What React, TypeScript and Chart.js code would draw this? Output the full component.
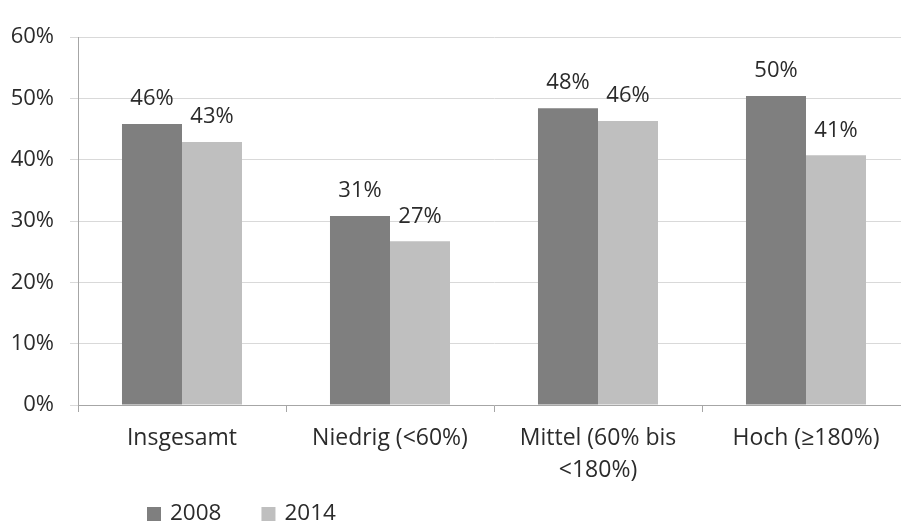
import React, { useEffect, useRef } from "react";
import { Chart, registerables } from "chart.js";

Chart.register(...registerables);

const categories: (string | string[])[] = [
  "Insgesamt",
  "Niedrig (<60%)",
  ["Mittel (60% bis", "<180%)"],
  "Hoch (≥180%)",
];
const series2008 = [45.8, 30.8, 48.4, 50.4];
const series2014 = [42.9, 26.7, 46.3, 40.7];
const seriesLabels = ["2008", "2014"];
const yTicks = [0, 10, 20, 30, 40, 50, 60];

const FONT = '"Open Sans", "DejaVu Sans", sans-serif';
const TEXT = "#2b2b2b";

const dataLabelPlugin = {
  id: "dataLabels",
  afterDatasetsDraw(chart: any) {
    const ctx = chart.ctx;
    ctx.save();
    ctx.font = `22px ${FONT}`;
    ctx.fillStyle = TEXT;
    ctx.textAlign = "center";
    ctx.textBaseline = "middle";
    chart.data.datasets.forEach((ds: any, i: number) => {
      const meta = chart.getDatasetMeta(i);
      meta.data.forEach((bar: any, j: number) => {
        ctx.fillText(Math.round(ds.data[j]) + "%", bar.x, bar.y - 25);
      });
    });
    ctx.restore();
  },
};

const legendPlugin = {
  id: "customLegend",
  afterDraw(chart: any) {
    const ctx = chart.ctx;
    ctx.save();
    ctx.font = `22.5px ${FONT}`;
    ctx.textBaseline = "middle";
    ctx.textAlign = "left";
    let x = 147;
    const boxY = 507;
    const box = 14;
    chart.data.datasets.forEach((ds: any) => {
      ctx.fillStyle = ds.backgroundColor;
      ctx.fillRect(x, boxY, box, box);
      ctx.fillStyle = TEXT;
      ctx.fillText(ds.label, x + 23, boxY + box / 2);
      x += 23 + ctx.measureText(ds.label).width + 40;
    });
    ctx.restore();
  },
};

export default function App() {
  const ref = useRef<HTMLCanvasElement | null>(null);

  useEffect(() => {
    let chart: Chart | null = null;
    let cancelled = false;
    const make = () => {
      if (cancelled || !ref.current) return;
      chart = new Chart(ref.current, {
        type: "bar",
        data: {
          labels: categories as any,
          datasets: [
            {
              label: seriesLabels[0],
              data: series2008,
              backgroundColor: "#7f7f7f",
              borderWidth: 0,
              categoryPercentage: 0.577,
              barPercentage: 1,
            },
            {
              label: seriesLabels[1],
              data: series2014,
              backgroundColor: "#bfbfbf",
              borderWidth: 0,
              categoryPercentage: 0.577,
              barPercentage: 1,
            },
          ],
        },
        options: {
          responsive: false,
          animation: false,
          layout: { padding: { left: 0, top: 37, right: 10, bottom: 0 } },
          plugins: {
            legend: { display: false },
            tooltip: { enabled: false },
          },
          scales: {
            x: {
              offset: true,
              grid: {
                offset: true,
                drawOnChartArea: false,
                drawTicks: true,
                tickLength: 7,
                tickColor: "#a6a6a6",
              },
              border: { color: "#a6a6a6" },
              ticks: {
                autoSkip: false,
                maxRotation: 0,
                minRotation: 0,
                padding: 10,
                color: TEXT,
                font: { family: FONT, size: 23, lineHeight: 1.4 },
              },
              afterFit: (s: any) => {
                s.height = 117;
              },
            },
            y: {
              min: yTicks[0],
              max: yTicks[yTicks.length - 1],
              afterBuildTicks: (s: any) => {
                s.ticks = yTicks.map((v) => ({ value: v }));
              },
              grid: {
                color: "#d9d9d9",
                tickColor: "#d9d9d9",
                tickLength: 8,
              },
              border: { color: "#a6a6a6" },
              ticks: {
                padding: 16,
                color: TEXT,
                font: { family: FONT, size: 22 },
                callback: (v: any) => v + "%",
              },
              afterFit: (s: any) => {
                s.width = 78;
              },
            },
          },
        },
        plugins: [dataLabelPlugin, legendPlugin],
      });
    };
    const fonts: any = (document as any).fonts;
    if (fonts && fonts.load) {
      fonts.load(`22px "Open Sans"`).then(make, make);
    } else {
      make();
    }
    return () => {
      cancelled = true;
      if (chart) chart.destroy();
    };
  }, []);

  return (
    <div
      style={{
        position: "fixed",
        left: 0,
        top: 0,
        width: 901,
        height: 522,
        overflow: "hidden",
        background: "#ffffff",
      }}
    >
      <canvas
        ref={ref}
        width={920}
        height={522}
        style={{ width: 920, height: 522, display: "block" }}
      />
    </div>
  );
}
